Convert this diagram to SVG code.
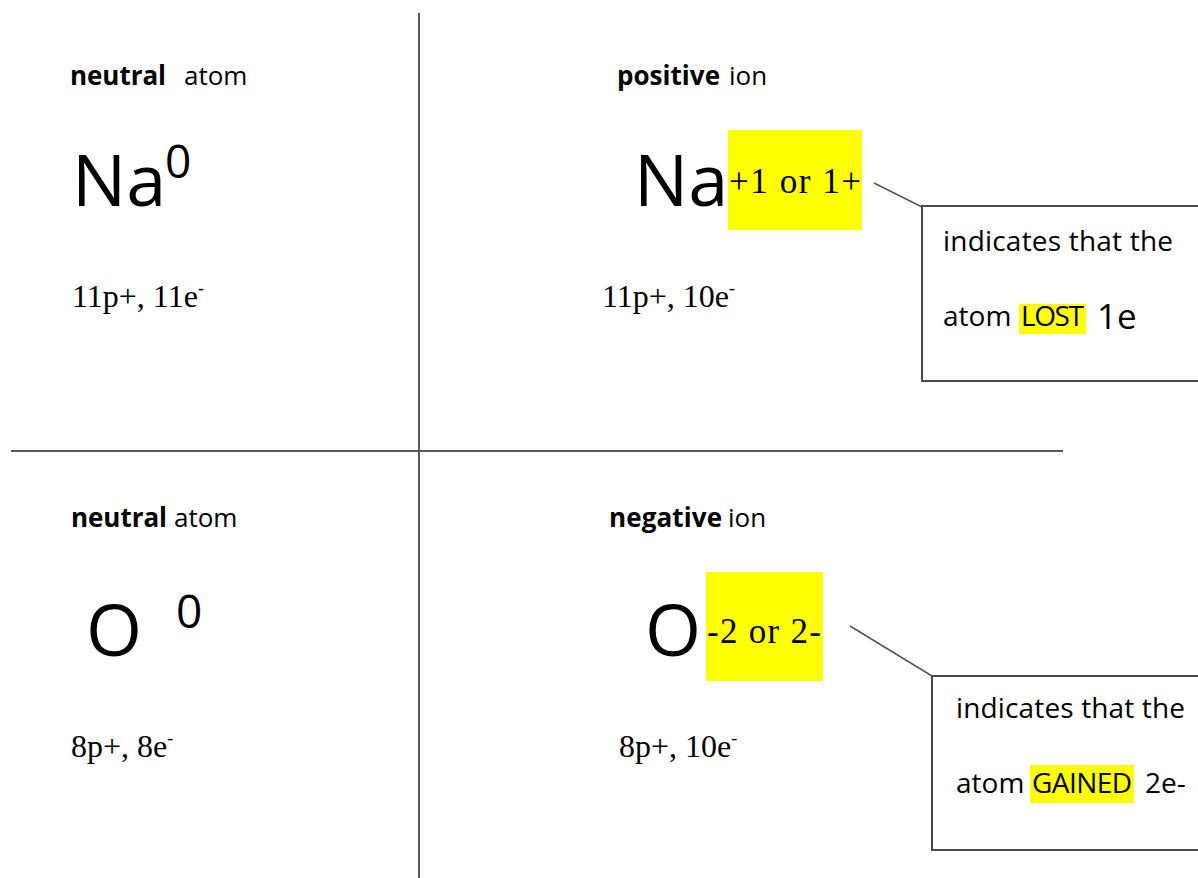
<svg xmlns="http://www.w3.org/2000/svg" width="1198" height="878" viewBox="0 0 1198 878">
<style>
.s{font-family:"Open Sans","Liberation Sans",sans-serif;fill:#000}
.b{font-weight:bold}
.t{font-family:"Liberation Serif","Times New Roman",serif;fill:#000}
.lbl{font-size:26px}
.big{font-size:72px}
.sup{font-size:46px}
.cnt{font-size:32px}
.chg{font-size:35px}
.box{fill:#fff;stroke:#4a4a4a;stroke-width:2}
.hl{fill:#ffff00}
.bt{font-size:28px}
.grid{stroke:#595959;stroke-width:2;fill:none}
.lead{stroke:#555;stroke-width:1.5;fill:none}
</style>
<rect width="1198" height="878" fill="#fff"/>
<g id="connectors">
<line class="grid" x1="419" y1="13" x2="419" y2="878"/>
<line class="grid" x1="11" y1="451" x2="1063" y2="451"/>
<line class="lead" x1="874" y1="183" x2="922" y2="207"/>
<line class="lead" x1="850" y1="626" x2="932" y2="676"/>
</g>
<g id="na-neutral">
<text class="s lbl" x="70" y="85"><tspan class="b" textLength="96">neutral</tspan><tspan x="184">atom</tspan></text>
<text class="s big" x="72" y="206">Na</text>
<text class="s sup" x="165" y="178">0</text>
<text class="t cnt" x="72" y="307">11p+, 11e<tspan font-size="18" dy="-13">-</tspan></text>
</g>
<g id="na-positive">
<text class="s lbl" x="617" y="85"><tspan class="b" textLength="103">positive</tspan><tspan x="729">ion</tspan></text>
<text class="s big" x="634" y="206">Na</text>
<rect class="hl" x="728" y="130" width="134" height="100"/>
<text class="t chg" x="729" y="193" textLength="132" lengthAdjust="spacing">+1 or 1+</text>
<text class="t cnt" x="602" y="307">11p+, 10e<tspan font-size="18" dy="-13">-</tspan></text>
</g>
<g id="callout-lost">
<rect class="box" x="922" y="206" width="290" height="175"/>
<text class="s bt" x="943" y="251" textLength="230" lengthAdjust="spacing">indicates that the</text>
<rect class="hl" x="1019" y="304" width="67" height="30"/>
<text class="s bt" x="943" y="326">atom</text>
<text class="s bt" x="1021" y="326" textLength="63" lengthAdjust="spacing">LOST</text>
<text class="s" font-size="35" x="1097" y="329">1e</text>
</g>
<g id="o-neutral">
<text class="s lbl" x="71" y="527"><tspan class="b" textLength="96">neutral</tspan><tspan x="174">atom</tspan></text>
<text class="s big" x="86" y="656">O</text>
<text class="s sup" x="176" y="628">0</text>
<text class="t cnt" x="71" y="757">8p+, 8e<tspan font-size="18" dy="-13">-</tspan></text>
</g>
<g id="o-negative">
<text class="s lbl" x="609" y="527"><tspan class="b" textLength="113">negative</tspan><tspan x="728">ion</tspan></text>
<text class="s big" x="645" y="656">O</text>
<rect class="hl" x="706" y="572" width="117" height="109"/>
<text class="t chg" x="707" y="643" textLength="114" lengthAdjust="spacing">-2 or 2-</text>
<text class="t cnt" x="619" y="757">8p+, 10e<tspan font-size="18" dy="-13">-</tspan></text>
</g>
<g id="callout-gained">
<rect class="box" x="932" y="676" width="280" height="174"/>
<text class="s bt" x="956" y="718" textLength="229" lengthAdjust="spacing">indicates that the</text>
<rect class="hl" x="1030" y="765" width="104" height="38"/>
<text class="s bt" x="956" y="793">atom</text>
<text class="s bt" x="1032" y="793" textLength="100" lengthAdjust="spacing">GAINED</text>
<text class="s bt" x="1145" y="793">2e-</text>
</g>
</svg>
